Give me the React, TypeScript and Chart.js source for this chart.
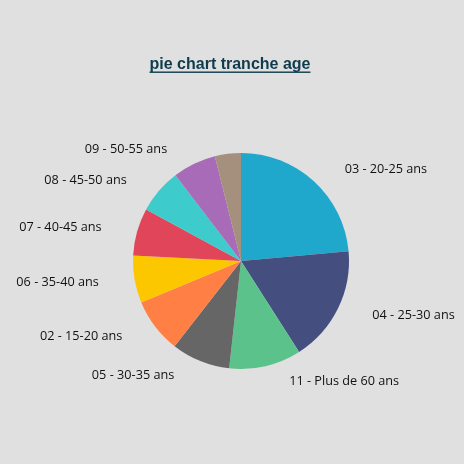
import { useEffect, useRef } from "react";
import { Chart, registerables, Plugin } from "chart.js";

Chart.register(...registerables);

// slices, clockwise from 12 o'clock
const categories = [
  "03 - 20-25 ans",
  "04 - 25-30 ans",
  "11 - Plus de 60 ans",
  "05 - 30-35 ans",
  "02 - 15-20 ans",
  "06 - 35-40 ans",
  "07 - 40-45 ans",
  "08 - 45-50 ans",
  "09 - 50-55 ans",
  "10 - 55-60 ans",
];
const values = [23.6, 17.4, 10.8, 8.8, 8.2, 7.1, 7.1, 6.7, 6.5, 3.9];
const colors = [
  "#20a8cc",
  "#454f7f",
  "#5bc28b",
  "#666666",
  "#ff7f45",
  "#fdc700",
  "#e0455a",
  "#3dcbcc",
  "#a86bb8",
  "#a4907c",
];
const chartTitle = "pie chart tranche age";

// title with underline, drawn on the canvas
const titlePlugin: Plugin<"pie"> = {
  id: "underlinedTitle",
  afterDraw(chart) {
    const ctx = chart.ctx;
    ctx.save();
    ctx.font = "bold 16px 'Liberation Sans', Arial, sans-serif";
    ctx.fillStyle = "#0f3b4c";
    ctx.textAlign = "center";
    ctx.textBaseline = "middle";
    const x = 222;
    const y = 57;
    ctx.fillText(chartTitle, x, y);
    const w = ctx.measureText(chartTitle).width;
    ctx.fillRect(x - w / 2, y + 6.5, w, 1.4);
    ctx.restore();
  },
};

// outside labels placed from each arc's mid angle
const outsideLabels: Plugin<"pie"> = {
  id: "outsideLabels",
  afterDatasetsDraw(chart) {
    const ctx = chart.ctx;
    const meta = chart.getDatasetMeta(0);
    const total = values.reduce((a, b) => a + b, 0);
    ctx.save();
    ctx.font = "12.7px 'Open Sans', sans-serif";
    ctx.fillStyle = "#111111";
    ctx.textBaseline = "middle";
    meta.data.forEach((el: any, i) => {
      // small slices get no label
      if (values[i] / total < 0.05) return;
      const mid = (el.startAngle + el.endAngle) / 2;
      const r = el.outerRadius + 16;
      const ax = el.x + Math.cos(mid) * r;
      const ay = el.y + Math.sin(mid) * r;
      const right = Math.cos(mid) >= 0;
      ctx.textAlign = right ? "left" : "right";
      ctx.fillText(categories[i], ax + (right ? 20 : -20), ay);
    });
    ctx.restore();
  },
};

const PieChart: React.FC = () => {
  const canvasRef = useRef<HTMLCanvasElement | null>(null);
  const chartRef = useRef<Chart<"pie"> | null>(null);

  useEffect(() => {
    if (!canvasRef.current) return;
    if (chartRef.current) chartRef.current.destroy();

    chartRef.current = new Chart(canvasRef.current, {
      type: "pie",
      data: {
        labels: categories,
        datasets: [
          {
            data: values,
            backgroundColor: colors,
            borderWidth: 0,
          },
        ],
      },
      options: {
        animation: false,
        responsive: false,
        radius: 108,
        layout: { padding: { left: 18, right: 0, top: 58, bottom: 0 } },
        plugins: {
          legend: { display: false },
          title: { display: false },
          tooltip: { enabled: false },
        },
      },
      plugins: [titlePlugin, outsideLabels],
    });

    return () => {
      if (chartRef.current) {
        chartRef.current.destroy();
        chartRef.current = null;
      }
    };
  }, []);

  return <canvas ref={canvasRef} width={448} height={448} />;
};

export default function App() {
  useEffect(() => {
    document.body.style.background = "#e0e0e0";
  }, []);
  return (
    <div style={{ width: 448, height: 448 }}>
      <PieChart />
    </div>
  );
}
